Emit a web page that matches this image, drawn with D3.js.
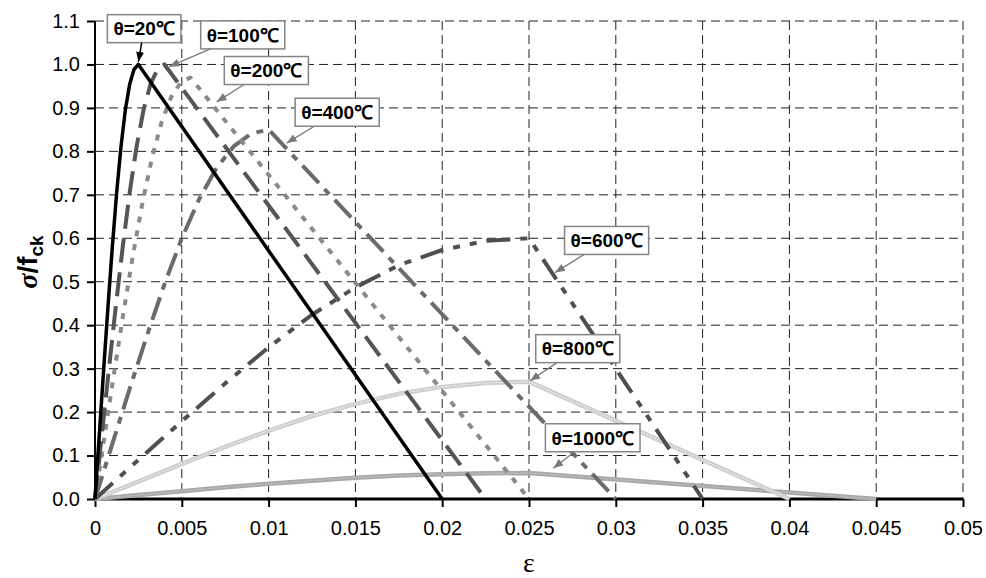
<!DOCTYPE html>
<html>
<head>
<meta charset="utf-8">
<script src="https://cdn.jsdelivr.net/npm/d3@7/dist/d3.min.js"></script>
<style>
  html, body { margin: 0; padding: 0; background: #fff; }
  svg { display: block; }
</style>
</head>
<body>
<svg id="chart" width="986" height="578"></svg>
<script>
// Concrete stress-strain relationships at elevated temperature (normalised by f_ck)

const xTicks = [0, 0.005, 0.01, 0.015, 0.02, 0.025, 0.03, 0.035, 0.04, 0.045, 0.05];
const xTickLabels = ["0", "0.005", "0.01", "0.015", "0.02", "0.025", "0.03", "0.035", "0.04", "0.045", "0.05"];
const yTicks = [0, 0.1, 0.2, 0.3, 0.4, 0.5, 0.6, 0.7, 0.8, 0.9, 1.0, 1.1];
const yTickLabels = ["0.0", "0.1", "0.2", "0.3", "0.4", "0.5", "0.6", "0.7", "0.8", "0.9", "1.0", "1.1"];

const temperatures = [20, 100, 200, 400, 600, 800, 1000];
const curveLabels = ["θ=20℃", "θ=100℃", "θ=200℃", "θ=400℃", "θ=600℃", "θ=800℃", "θ=1000℃"];

const eps20   = [0, 0.00025, 0.0005, 0.00075, 0.001, 0.00125, 0.0015, 0.00175, 0.002, 0.00225, 0.0025, 0.02];
const sig20   = [0, 0.150, 0.299, 0.444, 0.581, 0.706, 0.812, 0.896, 0.955, 0.989, 1.000, 0];
const eps100  = [0, 0.0004, 0.0008, 0.0012, 0.0016, 0.002, 0.0024, 0.0028, 0.0032, 0.0036, 0.004, 0.0225];
const sig100  = [0, 0.150, 0.299, 0.444, 0.581, 0.706, 0.812, 0.896, 0.955, 0.989, 1.000, 0];
const eps200  = [0, 0.00055, 0.0011, 0.00165, 0.0022, 0.00275, 0.0033, 0.00385, 0.0044, 0.00495, 0.0055, 0.025];
const sig200  = [0, 0.145, 0.290, 0.431, 0.564, 0.685, 0.788, 0.869, 0.926, 0.959, 0.970, 0];
const eps400  = [0, 0.001, 0.002, 0.003, 0.004, 0.005, 0.006, 0.007, 0.008, 0.009, 0.010, 0.030];
const sig400  = [0, 0.127, 0.254, 0.377, 0.494, 0.600, 0.690, 0.762, 0.812, 0.841, 0.850, 0];
const eps600  = [0, 0.0025, 0.005, 0.0075, 0.010, 0.0125, 0.015, 0.0175, 0.020, 0.0225, 0.025, 0.035];
const sig600  = [0, 0.090, 0.179, 0.266, 0.349, 0.424, 0.487, 0.538, 0.573, 0.594, 0.600, 0];
const eps800  = [0, 0.0025, 0.005, 0.0075, 0.010, 0.0125, 0.015, 0.0175, 0.020, 0.0225, 0.025, 0.040];
const sig800  = [0, 0.040, 0.081, 0.120, 0.157, 0.191, 0.219, 0.242, 0.258, 0.267, 0.270, 0];
const eps1000 = [0, 0.0025, 0.005, 0.0075, 0.010, 0.0125, 0.015, 0.0175, 0.020, 0.0225, 0.025, 0.045];
const sig1000 = [0, 0.009, 0.018, 0.027, 0.035, 0.042, 0.049, 0.054, 0.057, 0.059, 0.060, 0];

// where each label's arrow points (strain, stress) and where its box sits
const arrowTipEps = [0.0025, 0.00428, 0.00701, 0.01104, 0.0265, 0.02506, 0.0264];
const arrowTipSig = [1.006, 0.995, 0.914, 0.819, 0.521, 0.272, 0.071];
const boxEps = [0.00283, 0.00851, 0.00987, 0.01395, 0.02947, 0.02781, 0.02867];
const boxSig = [1.0824, 1.068, 0.986, 0.890, 0.595, 0.346, 0.141];

const strains = [eps20, eps100, eps200, eps400, eps600, eps800, eps1000];
const stresses = [sig20, sig100, sig200, sig400, sig600, sig800, sig1000];

const series = temperatures.map((t, i) => ({
  temp: t,
  label: curveLabels[i],
  points: strains[i].map((e, j) => ({ e: e, s: stresses[i][j] }))
}));

// line appearance per temperature
const styles = {
  20:   { stroke: "#000000", width: 3.5, dash: null },
  100:  { stroke: "#555555", width: 4,   dash: "24 10" },
  200:  { stroke: "#8a8a8a", width: 4,   dash: "6 8" },
  400:  { stroke: "#6b6b6b", width: 4,   dash: "24 8 7 8" },
  600:  { stroke: "#4f4f4f", width: 4,   dash: "24 10 7 10 7 10" },
  800:  { stroke: "#cdcdcd", width: 4.5, dash: null, texture: "#f2f2f2" },
  1000: { stroke: "#a8a8a8", width: 4.5, dash: null, texture: "#c6c6c6" }
};

const svg = d3.select("#chart");
const x = d3.scaleLinear().domain([0, 0.05]).range([95, 963]);
const y = d3.scaleLinear().domain([0, 1.1]).range([499, 21]);

const FONT = "'Liberation Sans', Arial, Helvetica, sans-serif";

// dashed grid
const grid = svg.append("g");
grid.selectAll("line.v").data(xTicks.slice(1)).join("line")
  .attr("x1", d => x(d)).attr("x2", d => x(d))
  .attr("y1", y(1.1)).attr("y2", y(0))
  .attr("stroke", "#222").attr("stroke-width", 1).attr("stroke-dasharray", "9 5");
grid.selectAll("line.h").data(yTicks.slice(1)).join("line")
  .attr("x1", x(0)).attr("x2", x(0.05))
  .attr("y1", d => y(d)).attr("y2", d => y(d))
  .attr("stroke", "#222").attr("stroke-width", 1).attr("stroke-dasharray", "9 5");

// axes
const xAxis = d3.axisBottom(x).tickValues(xTicks)
  .tickFormat((d, i) => xTickLabels[i]).tickSize(8).tickPadding(14);
const yAxis = d3.axisLeft(y).tickValues(yTicks)
  .tickFormat((d, i) => yTickLabels[i]).tickSize(8).tickPadding(7);

const gy = svg.append("g").attr("transform", `translate(${x(0)},0)`).call(yAxis);
gy.select(".domain").attr("stroke", "#000").attr("stroke-width", 2)
  .attr("d", `M0,${y(1.1)}V${y(0)}`);
gy.selectAll(".tick line").attr("stroke", "#000").attr("stroke-width", 2);
gy.selectAll(".tick text").attr("font-family", FONT).attr("font-size", 20).attr("fill", "#000");

const gx = svg.append("g").attr("transform", `translate(0,${y(0)})`).call(xAxis);
gx.select(".domain").attr("stroke", "#000").attr("stroke-width", 3)
  .attr("d", `M${x(0)},0H${x(0.05)}`);
gx.selectAll(".tick line").attr("stroke", "#000").attr("stroke-width", 2);
gx.selectAll(".tick text").attr("font-family", FONT).attr("font-size", 20).attr("fill", "#000");

// curves
const line = d3.line().x(d => x(d.e)).y(d => y(d.s));
const curves = svg.append("g");
series.slice().reverse().forEach(s => {
  const st = styles[s.temp];
  curves.append("path").datum(s.points)
    .attr("d", line).attr("fill", "none")
    .attr("stroke", st.stroke).attr("stroke-width", st.width)
    .attr("stroke-linejoin", "round").attr("stroke-linecap", "butt")
    .attr("stroke-dasharray", st.dash);
  if (st.texture) {
    curves.append("path").datum(s.points)
      .attr("d", line).attr("fill", "none")
      .attr("stroke", st.texture).attr("stroke-width", 1.3)
      .attr("stroke-dasharray", "1.5 1.5");
  }
});

// axis titles
svg.append("text")
  .attr("x", x(0.025)).attr("y", 572)
  .attr("text-anchor", "middle")
  .attr("font-family", "'Liberation Serif', 'Times New Roman', serif")
  .attr("font-size", 28).text("ε");

const yt = svg.append("text")
  .attr("transform", "translate(37,262) rotate(-90)")
  .attr("text-anchor", "middle")
  .attr("font-family", FONT).attr("font-weight", "bold").attr("font-size", 28);
yt.append("tspan").attr("font-style", "italic")
  .attr("font-family", "'Liberation Serif', 'Times New Roman', serif").text("σ");
yt.append("tspan").text("/f");
yt.append("tspan").attr("font-size", 19).attr("dy", 6).text("ck");

// labels with arrows
const defs = svg.append("defs");
[["arrGrey", "#7a7a7a"], ["arrBlack", "#000"]].forEach(([id, c]) => {
  defs.append("marker").attr("id", id)
    .attr("viewBox", "0 0 10 10").attr("refX", 10).attr("refY", 5)
    .attr("markerWidth", 10).attr("markerHeight", 10)
    .attr("markerUnits", "userSpaceOnUse").attr("orient", "auto")
    .append("path").attr("d", "M0,1 L10,5 L0,9 Z").attr("fill", c);
});

const notes = svg.append("g");
series.forEach((s, i) => {
  const cx = x(boxEps[i]), cy = y(boxSig[i]);
  const tx = x(arrowTipEps[i]), ty = y(arrowTipSig[i]);
  const g = notes.append("g");
  const txt = g.append("text")
    .attr("x", cx).attr("y", cy).attr("dy", "0.36em")
    .attr("text-anchor", "middle")
    .attr("font-family", FONT).attr("font-weight", "bold").attr("font-size", 19)
    .attr("fill", "#000").text(s.label);
  const bb = txt.node().getBBox();
  const w = bb.width + 12, h = 28;
  g.insert("rect", "text")
    .attr("x", cx - w / 2).attr("y", cy - h / 2)
    .attr("width", w).attr("height", h)
    .attr("fill", "#fff").attr("stroke", "#858585").attr("stroke-width", 1.5);
  // start the arrow where the centre-to-tip line leaves the box
  const dx = tx - cx, dy = ty - cy;
  const t = Math.min(Math.abs((w / 2) / (dx || 1e-9)), Math.abs((h / 2) / (dy || 1e-9)));
  const black = s.temp === 20;
  notes.append("line")
    .attr("x1", cx + dx * t).attr("y1", cy + dy * t)
    .attr("x2", tx).attr("y2", ty)
    .attr("stroke", black ? "#000" : "#7a7a7a").attr("stroke-width", black ? 1.5 : 1.3)
    .attr("marker-end", `url(#${black ? "arrBlack" : "arrGrey"})`);
});
</script>
</body>
</html>
